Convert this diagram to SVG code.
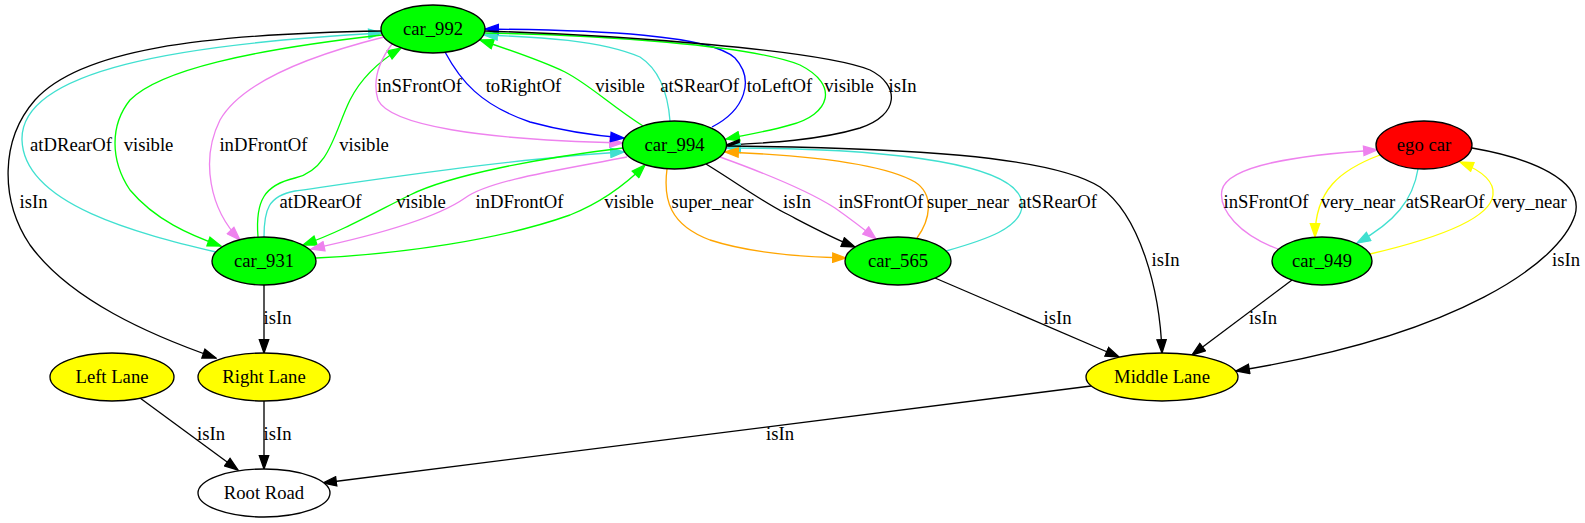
<svg xmlns="http://www.w3.org/2000/svg" width="1585" height="523" viewBox="0 0 1585 523">
<style>
text{font-family:"Liberation Serif","Times New Roman",serif;font-size:18.67px;text-anchor:middle;fill:#000}
.node ellipse{stroke:#000;stroke-width:1.33}
.g{fill:#00ff00}.r{fill:#ff0000}.y{fill:#ffff00}.w{fill:#ffffff}
#edges path{fill:none;stroke-width:1.33}
.k{stroke:#000;marker-end:url(#mk)}
.c{stroke:#40e0d0;marker-end:url(#mc)}
.gr{stroke:#00ff00;marker-end:url(#mg)}
.v{stroke:#ee82ee;marker-end:url(#mv)}
.b{stroke:#0000ff;marker-end:url(#mb)}
.o{stroke:#ffa500;marker-end:url(#mo)}
.ye{stroke:#ffff00;marker-end:url(#my)}
</style>
<defs>
<marker id="mk" viewBox="-1 -1 15.3 11.33" refX="13.3" refY="4.67" markerWidth="15.3" markerHeight="11.33" markerUnits="userSpaceOnUse" orient="auto"><path d="M0,0 L13.3,4.67 L0,9.33 Z" fill="#000" stroke="#000" stroke-width="1.33"/></marker>
<marker id="mc" viewBox="-1 -1 15.3 11.33" refX="13.3" refY="4.67" markerWidth="15.3" markerHeight="11.33" markerUnits="userSpaceOnUse" orient="auto"><path d="M0,0 L13.3,4.67 L0,9.33 Z" fill="#40e0d0" stroke="#40e0d0" stroke-width="1.33"/></marker>
<marker id="mg" viewBox="-1 -1 15.3 11.33" refX="13.3" refY="4.67" markerWidth="15.3" markerHeight="11.33" markerUnits="userSpaceOnUse" orient="auto"><path d="M0,0 L13.3,4.67 L0,9.33 Z" fill="#00ff00" stroke="#00ff00" stroke-width="1.33"/></marker>
<marker id="mv" viewBox="-1 -1 15.3 11.33" refX="13.3" refY="4.67" markerWidth="15.3" markerHeight="11.33" markerUnits="userSpaceOnUse" orient="auto"><path d="M0,0 L13.3,4.67 L0,9.33 Z" fill="#ee82ee" stroke="#ee82ee" stroke-width="1.33"/></marker>
<marker id="mb" viewBox="-1 -1 15.3 11.33" refX="13.3" refY="4.67" markerWidth="15.3" markerHeight="11.33" markerUnits="userSpaceOnUse" orient="auto"><path d="M0,0 L13.3,4.67 L0,9.33 Z" fill="#0000ff" stroke="#0000ff" stroke-width="1.33"/></marker>
<marker id="mo" viewBox="-1 -1 15.3 11.33" refX="13.3" refY="4.67" markerWidth="15.3" markerHeight="11.33" markerUnits="userSpaceOnUse" orient="auto"><path d="M0,0 L13.3,4.67 L0,9.33 Z" fill="#ffa500" stroke="#ffa500" stroke-width="1.33"/></marker>
<marker id="my" viewBox="-1 -1 15.3 11.33" refX="13.3" refY="4.67" markerWidth="15.3" markerHeight="11.33" markerUnits="userSpaceOnUse" orient="auto"><path d="M0,0 L13.3,4.67 L0,9.33 Z" fill="#ffff00" stroke="#ffff00" stroke-width="1.33"/></marker>
</defs>
<rect width="1585" height="523" fill="#fff"/>
<g id="edges">
<path class="c" d="M216,252 C140,234 24,205 22,140 C20,70 180,44 382,33"/>
<path class="gr" d="M382,35 C250,50 160,70 130,100 C110,125 110,160 130,190 C155,220 190,235 221,246"/>
<path class="v" d="M384,37 C300,58 240,85 220,120 C200,160 210,210 240,240"/>
<path class="gr" d="M258,237 C255,200 265,185 295,178 C330,170 335,130 350,100 C360,80 378,62 401,48"/>
<path class="k" d="M382,31 C200,34 80,50 35,100 C0,140 0,200 30,245 C70,300 150,335 216,358"/>
<path class="v" d="M392,44 C380,60 372,80 378,100 C390,125 480,140 623,143"/>
<path class="b" d="M445,52 C460,80 480,105 530,122 C570,133 600,136 624,138"/>
<path class="gr" d="M643,126 C610,105 590,85 565,72 C540,60 510,50 480,40"/>
<path class="c" d="M670,121 C668,95 660,70 640,57 C600,40 540,37 484,35"/>
<path class="b" d="M712,127 C745,110 755,80 735,58 C710,35 600,30 485,29"/>
<path class="gr" d="M485,33 C600,35 750,45 800,65 C840,85 830,115 790,125 C770,131 745,135 726,139"/>
<path class="k" d="M485,31 C620,35 820,50 870,70 C900,85 900,115 860,128 C820,140 770,143 726,145"/>
<path class="c" d="M264,237 C264,210 268,196 295,191 C400,176 520,158 624,152"/>
<path class="gr" d="M623,148 C540,158 450,175 410,195 C370,215 340,232 303,245"/>
<path class="v" d="M627,157 C560,170 490,180 465,198 C445,212 400,230 311,249"/>
<path class="gr" d="M316,258 C400,254 500,240 570,215 C600,203 625,185 645,165"/>
<path class="c" d="M946,251 C985,240 1022,228 1022,205 C1022,165 900,148 727,148"/>
<path class="o" d="M917,238 C930,220 935,195 915,182 C880,162 800,155 725,152"/>
<path class="o" d="M667,169 C663,200 670,225 710,240 C750,253 800,257 846,258"/>
<path class="k" d="M706,164 C740,185 760,200 785,213 C810,226 830,237 855,247"/>
<path class="v" d="M720,157 C770,175 810,192 835,208 C852,220 865,230 876,239"/>
<path class="k" d="M727,146 C900,148 1050,155 1100,187 C1140,215 1160,290 1162,353"/>
<path class="k" d="M264,285 L264,353"/>
<path class="k" d="M140,398 L238,470"/>
<path class="k" d="M264,401 L264,469"/>
<path class="k" d="M1091,386 L323,483"/>
<path class="k" d="M935,278 L1119,357"/>
<path class="k" d="M1292,280 L1192,355"/>
<path class="k" d="M1472,148 C1530,158 1585,180 1575,215 C1560,262 1460,335 1236,371"/>
<path class="v" d="M1278,249 C1240,235 1218,210 1222,190 C1228,165 1300,155 1377,150"/>
<path class="ye" d="M1380,155 C1340,170 1315,190 1315,237"/>
<path class="c" d="M1418,169 C1413,200 1395,222 1357,243"/>
<path class="ye" d="M1370,254 C1430,240 1490,220 1493,195 C1495,180 1480,170 1460,162"/>
</g>
<g id="edge-labels">
<text x="71" y="151">atDRearOf</text>
<text x="148.5" y="151">visible</text>
<text x="263.5" y="151">inDFrontOf</text>
<text x="364" y="151">visible</text>
<text x="33.5" y="208">isIn</text>
<text x="419.5" y="92">inSFrontOf</text>
<text x="523.5" y="92">toRightOf</text>
<text x="620" y="92">visible</text>
<text x="699.5" y="92">atSRearOf</text>
<text x="779.5" y="92">toLeftOf</text>
<text x="849" y="92">visible</text>
<text x="902.5" y="92">isIn</text>
<text x="320.5" y="208">atDRearOf</text>
<text x="421" y="208">visible</text>
<text x="519.5" y="208">inDFrontOf</text>
<text x="629" y="208">visible</text>
<text x="712.5" y="208">super_near</text>
<text x="797" y="208">isIn</text>
<text x="881" y="208">inSFrontOf</text>
<text x="968" y="208">super_near</text>
<text x="1057.5" y="208">atSRearOf</text>
<text x="1266" y="208">inSFrontOf</text>
<text x="1358" y="208">very_near</text>
<text x="1445" y="208">atSRearOf</text>
<text x="1529.5" y="208">very_near</text>
<text x="1165.5" y="266">isIn</text>
<text x="1566" y="266">isIn</text>
<text x="277.5" y="324">isIn</text>
<text x="1057.5" y="324">isIn</text>
<text x="1263" y="324">isIn</text>
<text x="211" y="440">isIn</text>
<text x="277.5" y="440">isIn</text>
<text x="780" y="440">isIn</text>
</g>
<g id="car_992" class="node"><ellipse class="g" cx="433" cy="29" rx="52" ry="24"/><text x="433" y="35">car_992</text></g>
<g id="car_994" class="node"><ellipse class="g" cx="674.5" cy="145" rx="52" ry="24"/><text x="674.5" y="151">car_994</text></g>
<g id="car_931" class="node"><ellipse class="g" cx="264" cy="261" rx="52" ry="24"/><text x="264" y="267">car_931</text></g>
<g id="car_565" class="node"><ellipse class="g" cx="898" cy="261" rx="53" ry="24"/><text x="898" y="267">car_565</text></g>
<g id="ego_car" class="node"><ellipse class="r" cx="1424" cy="145" rx="48" ry="24"/><text x="1424" y="151">ego car</text></g>
<g id="car_949" class="node"><ellipse class="g" cx="1322" cy="261" rx="50" ry="24"/><text x="1322" y="267">car_949</text></g>
<g id="middle_lane" class="node"><ellipse class="y" cx="1162" cy="377" rx="76" ry="24"/><text x="1162" y="383">Middle Lane</text></g>
<g id="left_lane" class="node"><ellipse class="y" cx="112" cy="377" rx="62" ry="24"/><text x="112" y="383">Left Lane</text></g>
<g id="right_lane" class="node"><ellipse class="y" cx="264" cy="377" rx="66" ry="24"/><text x="264" y="383">Right Lane</text></g>
<g id="root_road" class="node"><ellipse class="w" cx="264" cy="493" rx="66" ry="24"/><text x="264" y="499">Root Road</text></g>
</svg>
